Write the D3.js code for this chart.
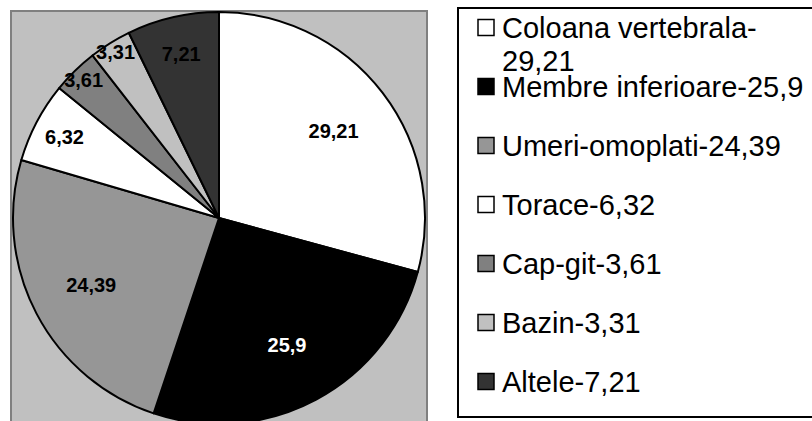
<!DOCTYPE html>
<html lang="ro">
  <head>
    <meta charset="utf-8" />
    <script src="https://d3js.org/d3.v7.min.js"></script>
    <style>
      body { margin: 0; background: #fff; }
      svg { display: block; font-family: "Liberation Sans", Arial, sans-serif; }
    </style>
  </head>
  <body>
    <div id="chart"></div>
    <script>
      // data
      var categories = ["Coloana vertebrala", "Membre inferioare", "Umeri-omoplati", "Torace", "Cap-git", "Bazin", "Altele"];
      var values = [29.21, 25.9, 24.39, 6.32, 3.61, 3.31, 7.21];
      var valueLabels = ["29,21", "25,9", "24,39", "6,32", "3,61", "3,31", "7,21"];
      var fills = ["#ffffff", "#000000", "#969696", "#ffffff", "#808080", "#c0c0c0", "#333333"];

      var W = 812, H = 421;
      var cx = 219, cy = 218, R = 206;

      var data = categories.map(function (c, i) {
        return { name: c, value: values[i], label: valueLabels[i], fill: fills[i] };
      });

      var svg = d3.select("#chart").append("svg")
        .attr("width", W).attr("height", H);

      // plot area
      svg.append("rect")
        .attr("x", 11).attr("y", 11)
        .attr("width", 416).attr("height", 430)
        .attr("fill", "#c0c0c0")
        .attr("stroke", "#808080")
        .attr("stroke-width", 2);

      var pie = d3.pie().sort(null).value(function (d) { return d.value; });
      var arc = d3.arc().innerRadius(0).outerRadius(R);
      var arcs = pie(data);

      var g = svg.append("g").attr("transform", "translate(" + cx + "," + cy + ")");

      g.selectAll("path.slice")
        .data(arcs)
        .enter()
        .append("path")
        .attr("class", "slice")
        .attr("d", arc)
        .attr("fill", function (d) { return d.data.fill; })
        .attr("stroke", "#000")
        .attr("stroke-width", 2)
        .attr("stroke-linejoin", "round");

      // labels: big slices further in, thin ones pushed out to the rim
      var smallR = d3.scaleLinear().domain([3, 8]).range([0.96 * R, 0.79 * R]).clamp(true);
      var labelR = function (d) { return d.data.value >= 20 ? R * 0.7 : smallR(d.data.value); };
      g.selectAll("text.lbl")
        .data(arcs)
        .enter()
        .append("text")
        .attr("class", "lbl")
        .attr("transform", function (d) {
          var r = labelR(d);
          var c = d3.arc().innerRadius(r).outerRadius(r).centroid(d);
          return "translate(" + c[0] + "," + c[1] + ")";
        })
        .attr("text-anchor", "middle")
        .attr("dy", "0.36em")
        .attr("font-weight", "bold")
        .attr("font-size", 20)
        .attr("fill", function (d) { return d.data.fill === "#000000" ? "#fff" : "#000"; })
        .text(function (d) { return d.data.label; });

      // legend
      svg.append("rect")
        .attr("x", 458).attr("y", 8)
        .attr("width", 370).attr("height", 409)
        .attr("fill", "#fff")
        .attr("stroke", "#000")
        .attr("stroke-width", 2);

      var ly = d3.scalePoint().domain(categories).range([38, 392]);
      var textX = 502, maxW = 305;

      var items = svg.selectAll("g.leg")
        .data(data)
        .enter()
        .append("g")
        .attr("class", "leg")
        .attr("transform", function (d) { return "translate(0," + ly(d.name) + ")"; });

      items.append("rect")
        .attr("x", 478).attr("y", -18.5)
        .attr("width", 16).attr("height", 16)
        .attr("fill", function (d) { return d.fill; })
        .attr("stroke", "#000")
        .attr("stroke-width", 1.5);

      items.each(function (d) {
        var full = d.name + "-" + d.label;
        var t = d3.select(this).append("text")
          .attr("x", textX)
          .attr("font-size", 29)
          .attr("fill", "#000")
          .text(full);
        if (t.node().getComputedTextLength() > maxW) {
          t.text(null);
          t.append("tspan").attr("x", textX).text(d.name + "-");
          t.append("tspan").attr("x", textX).attr("dy", 33).text(d.label);
        }
      });
    </script>
  </body>
</html>
